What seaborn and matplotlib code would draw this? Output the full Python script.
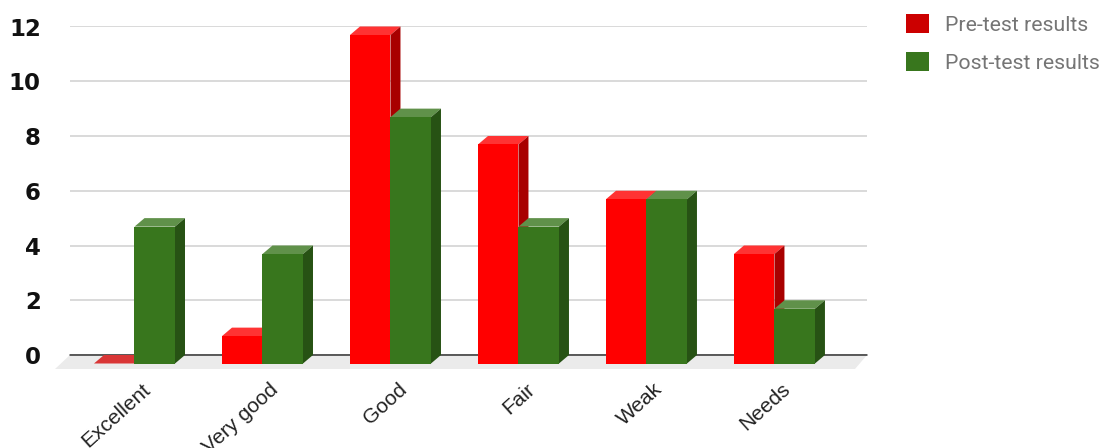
import matplotlib
matplotlib.use("Agg")
import matplotlib.pyplot as plt
from matplotlib.patches import Polygon, Patch
from matplotlib.transforms import Affine2D, IdentityTransform
import pandas as pd
import seaborn as sns

categories = ["Excellent", "Very good", "Good", "Fair", "Weak", "Needs"]
pre_test = [0, 1, 12, 8, 6, 4]
post_test = [5, 4, 9, 5, 6, 2]
series_names = ["Pre-test results", "Post-test results"]
y_ticks = [0, 2, 4, 6, 8, 10, 12]

W, H = 1102, 448
DX, DY = 10, 8.5  # depth of the 3D effect in pixels

sns.set_theme(style="white")
df = pd.DataFrame({
    "category": categories * 2,
    "value": pre_test + post_test,
    "series": [series_names[0]] * 6 + [series_names[1]] * 6,
})

fig = plt.figure(figsize=(W / 100, H / 100), dpi=100, facecolor="white")
ax = fig.add_axes([70 / W, (H - 355) / H, (867 - 70) / W, (355 - 26.5) / H])
front = {series_names[0]: "#ff0000", series_names[1]: "#38761d"}
top = ["#ff3333", "#60914a"]
side = ["#a80000", "#275214"]

sns.barplot(data=df, x="category", y="value", hue="series", palette=front,
            width=0.633, gap=0, dodge=True, legend=False, ax=ax, saturation=1,
            errorbar=None, linewidth=0, edgecolor="none")

ax.set_xlim(-0.582, 5.645)
ax.set_ylim(0, 12)
ax.set_xlabel("")
ax.set_ylabel("")
sns.despine(ax=ax, left=True, bottom=True, top=True, right=True)
ax.set_axisbelow(True)
ax.yaxis.grid(True, color="#cfcfcf", lw=1.1)
ax.xaxis.grid(False)
ax.set_yticks(y_ticks)
ax.tick_params(axis="y", length=0, pad=21)
for t in ax.get_yticklabels():
    t.set_fontfamily("DejaVu Sans")
    t.set_fontweight("bold")
    t.set_fontsize(16.5)
    t.set_color("#111111")

ax.set_xticks(range(len(categories)))
ax.set_xticklabels(categories, rotation=42, ha="right", rotation_mode="anchor",
                   fontfamily="Liberation Sans", fontsize=15, color="#222222")
ax.tick_params(axis="x", length=0, pad=20)
for t in ax.get_xticklabels():
    t.set_transform(t.get_transform() + Affine2D().translate(-3, 3))

fig.canvas.draw()

# floor of the 3D plot
id_tr = IdentityTransform()
x0, y0 = ax.transData.transform((-0.582, 0))
x1, _ = ax.transData.transform((5.645, 0))
floor = Polygon([(x0 - 15, y0 - 14), (x0, y0), (x1, y0), (x1 - 12, y0 - 14)],
                closed=True, transform=id_tr, facecolor="#ebebeb", edgecolor="none",
                zorder=1.5, clip_on=False)
ax.add_patch(floor)
ax.patch.set_alpha(0)
ax.axhline(0, color="#333333", lw=1.1, zorder=1.8, clip_on=False)

# front faces shifted forward, top and side faces added in pixels
n = len(categories)
bars = list(ax.patches)[:2 * n]
for idx, bar in enumerate(bars):
    s = idx // n
    h = bar.get_height()
    xa, ya = ax.transData.transform((bar.get_x(), 0))
    xb, yb = ax.transData.transform((bar.get_x() + bar.get_width(), h))
    xa -= DX; xb -= DX; ya -= DY; yb -= DY
    z = 3 + s
    bar.set_transform(ax.transData + Affine2D().translate(-DX, -DY))
    bar.set_clip_on(False)
    bar.set_zorder(z + 0.2)
    ax.add_patch(Polygon([(xa, yb), (xb, yb), (xb + DX, yb + DY), (xa + DX, yb + DY)],
                         closed=True, transform=id_tr,
                         facecolor=top[s] if h > 0 else "#d93636",
                         edgecolor="none", zorder=z, clip_on=False))
    if h > 0:
        ax.add_patch(Polygon([(xb, ya), (xb + DX, ya + DY), (xb + DX, yb + DY), (xb, yb)],
                             closed=True, transform=id_tr, facecolor=side[s],
                             edgecolor="none", zorder=z, clip_on=False))

handles = [Patch(facecolor="#cc0000", edgecolor="none", label=series_names[0]),
           Patch(facecolor="#38761d", edgecolor="none", label=series_names[1])]
leg = fig.legend(handles=handles, loc="upper left", bbox_to_anchor=(895.4 / W, 1 - 3.4 / H),
                 frameon=False, handlelength=1.08, handleheight=1.03, handletextpad=0.76,
                 labelspacing=0.8, borderpad=0.5, borderaxespad=0,
                 prop={"family": "Roboto", "size": 15.3})
for t in leg.get_texts():
    t.set_color("#757575")

fig.savefig("out.png", dpi=100)
